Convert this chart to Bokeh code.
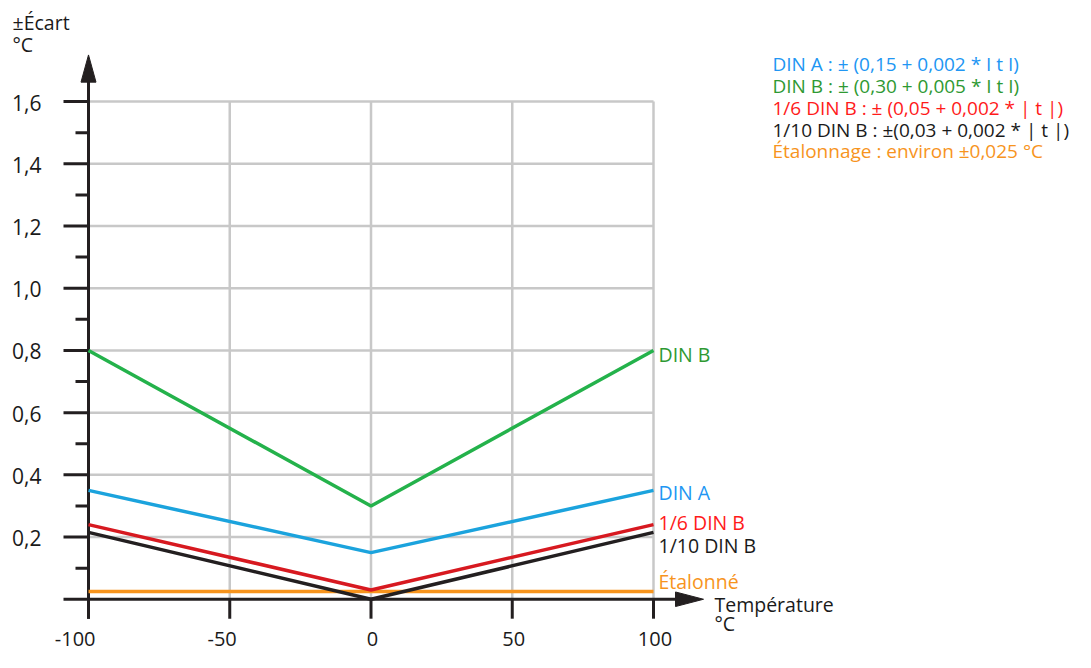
from bokeh.plotting import figure
from bokeh.models import Range1d
from bokeh.core.properties import value
from bokeh.embed import file_html
from bokeh.resources import INLINE

FONT = "Open Sans"

# ---- data ----
temps = [-100, 0, 100]
din_a = [0.35, 0.15, 0.35]
din_b = [0.80, 0.30, 0.80]
sixth_din_b = [0.24, 0.03, 0.24]
tenth_din_b = [0.215, 0.0, 0.215]
etalon = [0.025, 0.025, 0.025]

x_ticks = [-100, -50, 0, 50, 100]
x_tick_labels = ["-100", "-50", "0", "50", "100"]
y_ticks = [0.2, 0.4, 0.6, 0.8, 1.0, 1.2, 1.4, 1.6]
y_tick_labels = ["0,2", "0,4", "0,6", "0,8", "1,0", "1,2", "1,4", "1,6"]
y_minor = [0.1, 0.3, 0.5, 0.7, 0.9, 1.1, 1.3, 1.5]

series_names = ["DIN B", "DIN A", "1/6 DIN B", "1/10 DIN B", "Étalonné"]
legend_lines = [
    "DIN A : ± (0,15 + 0,002 * I t I)",
    "DIN B : ± (0,30 + 0,005 * I t I)",
    "1/6 DIN B : ± (0,05 + 0,002 * | t |)",
    "1/10 DIN B : ±(0,03 + 0,002 * | t |)",
    "Étalonnage : environ ±0,025 °C",
]
y_title = ["±Écart", "°C"]
x_title = ["Température", "°C"]

# ---- style ----
line_colors = {"DIN B": "#24b24b", "DIN A": "#1ba3dd", "1/6 DIN B": "#d71920",
               "1/10 DIN B": "#231f20", "Étalonné": "#f7941d"}
text_colors = {"DIN B": "#2e9932", "DIN A": "#2196f3", "1/6 DIN B": "#ff1a1a",
               "1/10 DIN B": "#1a1a1a", "Étalonné": "#f7941d"}
legend_colors = ["#2196f3", "#2e9932", "#ff1a1a", "#1a1a1a", "#f7941d"]
label_dy = {"DIN B": -4, "DIN A": -2, "1/6 DIN B": 2, "1/10 DIN B": -14, "Étalonné": 10}
AX = "#231f20"
GRID = "#c8c8c8"
TXT = "#1a1a1a"

# ---- layout (pixels) ----
W, H = 1075, 652
VS = 0.972                       # vertical compression to fit the page


def sy(ref_y):
    return (ref_y - 4) * VS


LEFT, RIGHT = 88, 653
TOP, BOTTOM = sy(108), sy(620)
X_MIN, X_MAX, Y_MIN, Y_MAX = -100, 100, 0.0, 1.6
PX = (X_MAX - X_MIN) / (RIGHT - LEFT)
PY = (Y_MAX - Y_MIN) / (BOTTOM - TOP)


def xd(px):            # pixel x -> data x
    return X_MIN + (px - LEFT) * PX


def yd(ref_y):         # reference pixel y -> data y
    return Y_MIN + (BOTTOM - sy(ref_y)) * PY


p = figure(width=W, height=H, output_backend="svg", toolbar_location=None,
           x_range=Range1d(xd(0), xd(W)), y_range=Range1d(Y_MIN - (H - BOTTOM) * PY, Y_MAX + TOP * PY),
           x_axis_type=None, y_axis_type=None, min_border=0)
p.outline_line_color = None
p.grid.visible = False
p.background_fill_color = "white"
p.border_fill_color = "white"

# grid
p.segment(x0=[X_MIN] * len(y_ticks), y0=y_ticks, x1=[X_MAX] * len(y_ticks), y1=y_ticks,
          line_color=GRID, line_width=2.5)
p.segment(x0=x_ticks[1:], y0=[Y_MIN] * 4, x1=x_ticks[1:], y1=[Y_MAX] * 4,
          line_color=GRID, line_width=2.5)

# axis lines
p.segment(x0=[X_MIN], y0=[yd(640)], x1=[X_MIN], y1=[yd(87)], line_color=AX, line_width=3)
p.segment(x0=[xd(63)], y0=[Y_MIN], x1=[xd(676)], y1=[Y_MIN], line_color=AX, line_width=3)
# arrow heads
hw = 7.5 * PY * VS
p.patches(xs=[[X_MIN - 7.5 * PX, X_MIN + 7.5 * PX, X_MIN],
              [xd(675), xd(675), xd(703)]],
          ys=[[yd(88), yd(88), yd(60)],
              [Y_MIN + hw, Y_MIN - hw, Y_MIN]],
          fill_color=AX, line_color=AX, line_width=1)

# ticks
p.segment(x0=[xd(63)] * len(y_ticks), y0=y_ticks, x1=[X_MIN] * len(y_ticks), y1=y_ticks,
          line_color=AX, line_width=3)
p.segment(x0=[xd(75)] * len(y_minor), y0=y_minor, x1=[X_MIN] * len(y_minor), y1=y_minor,
          line_color=AX, line_width=3)
p.segment(x0=x_ticks, y0=[yd(640)] * len(x_ticks), x1=x_ticks, y1=[Y_MIN] * len(x_ticks),
          line_color=AX, line_width=3)

# series
series = {"Étalonné": etalon, "DIN B": din_b, "DIN A": din_a,
          "1/6 DIN B": sixth_din_b, "1/10 DIN B": tenth_din_b}
for name in ["Étalonné", "DIN B", "DIN A", "1/6 DIN B", "1/10 DIN B"]:
    p.line(temps, series[name], line_color=line_colors[name], line_width=3.5)

# tick labels
p.text(x=[xd(41)] * len(y_ticks), y=[t - 1 * PY for t in y_ticks], text=y_tick_labels,
       text_font=value(FONT), text_font_size="21px", text_color=TXT,
       text_align="right", text_baseline="alphabetic")
neg = [i for i, t in enumerate(x_ticks) if t < 0]
pos = [i for i, t in enumerate(x_ticks) if t >= 0]
p.text(x=[x_ticks[i] + 7 * PX for i in neg], y=[yd(661)] * len(neg),
       text=[x_tick_labels[i] for i in neg], text_font=value(FONT), text_font_size="20px",
       text_color=TXT, text_align="right", text_baseline="alphabetic")
p.text(x=[x_ticks[i] + 1.5 * PX for i in pos], y=[yd(661)] * len(pos),
       text=[x_tick_labels[i] for i in pos], text_font=value(FONT), text_font_size="20px",
       text_color=TXT, text_align="center", text_baseline="alphabetic")

# end-of-line labels
p.text(x=[temps[-1] + 5 * PX] * len(series_names),
       y=[series[n][-1] + label_dy[n] * VS * PY for n in series_names],
       text=series_names, text_color=[text_colors[n] for n in series_names],
       text_font=value(FONT), text_font_size="19.5px", text_baseline="alphabetic")

# axis titles
p.text(x=[xd(12)] * 2, y=[yd(27), yd(49)], text=y_title,
       text_font=value(FONT), text_font_size="19.5px", text_color=TXT, text_baseline="alphabetic")
p.text(x=[xd(714)] * 2, y=[yd(625), yd(645)], text=x_title,
       text_font=value(FONT), text_font_size="19.5px", text_color=TXT, text_baseline="alphabetic")

# legend text block
p.text(x=[xd(772)] * len(legend_lines),
       y=[yd(b) for b in [69, 92, 115, 137, 159]],
       text=legend_lines, text_color=legend_colors,
       text_font=value(FONT), text_font_size="19px", text_baseline="alphabetic")

open("out.html", "w").write(file_html(p, INLINE))
